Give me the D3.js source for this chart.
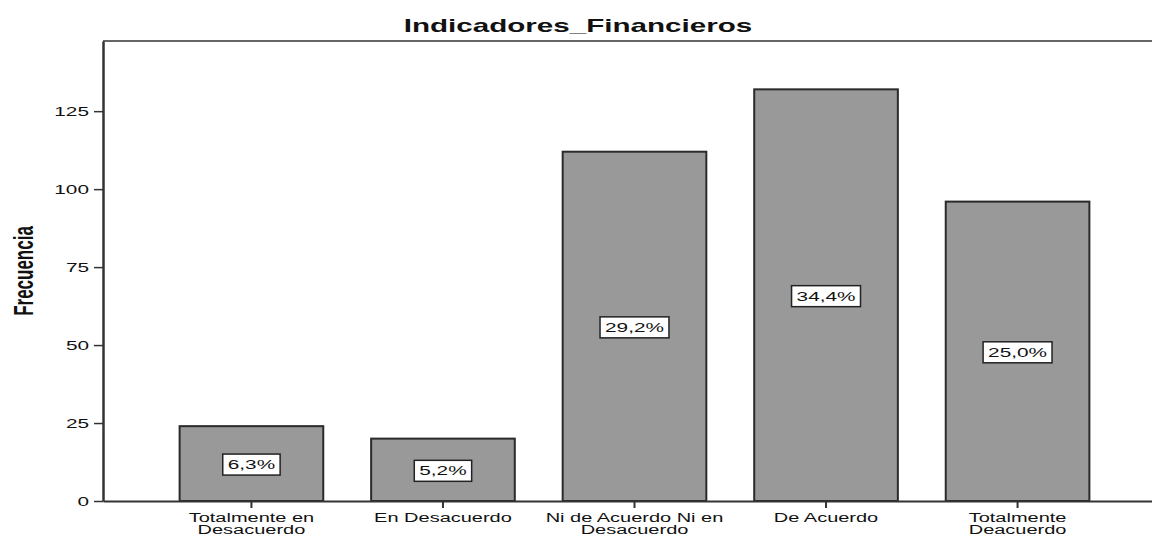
<!DOCTYPE html>
<html lang="es">
<head>
<meta charset="UTF-8">
<title>Indicadores_Financieros</title>
<script src="https://cdn.jsdelivr.net/npm/d3@7"></script>
<style>
    body{ margin:0; background:#fff; }
    svg{ display:block; font-family:"Liberation Sans", Arial, sans-serif; }
</style>
</head>
<body>
<script>
    // datos
    var categorias = [["Totalmente en","Desacuerdo"],["En Desacuerdo"],["Ni de Acuerdo Ni en","Desacuerdo"],["De Acuerdo"],["Totalmente","Deacuerdo"]];
    var frecuencias = [24, 20, 112, 132, 96];
    var porcentajes = [6.3, 5.2, 29.2, 34.4, 25.0];
    var ticksY = [0, 25, 50, 75, 100, 125];

    var width = 1152, height = 536;
    var sx = 1.6; // la imagen original esta estirada en horizontal
    var plotLeft = 103, plotRight = 1166, plotTop = 41, plotBottom = 501;

    var svg = d3.select('body').append('svg')
        .attr('width', width)
        .attr('height', height);

    var x = d3.scaleBand()
        .domain(d3.range(categorias.length))
        .range([plotLeft, plotRight])
        .paddingInner(0.25)
        .paddingOuter(0.4);

    var y = d3.scaleLinear()
        .domain([0, 147.5])
        .range([plotBottom, plotTop]);

    var pct = function(v){ return d3.format('.1f')(v).replace('.', ',') + '%'; };

    // marco superior
    svg.append('line')
        .attr('x1', plotLeft).attr('x2', plotRight)
        .attr('y1', plotTop).attr('y2', plotTop)
        .attr('stroke', '#666').attr('stroke-width', 2);

    // barras
    svg.selectAll('.bar')
        .data(frecuencias)
        .enter().append('rect')
        .attr('class', 'bar')
        .attr('x', function(d, i){ return x(i); })
        .attr('y', function(d){ return y(d); })
        .attr('width', x.bandwidth())
        .attr('height', function(d){ return y(0) - y(d); })
        .attr('fill', '#999999')
        .attr('stroke', '#2a2a2a')
        .attr('stroke-width', 2);

    // eje Y
    var gy = svg.append('g')
        .attr('transform', 'translate(' + plotLeft + ',0)')
        .call(d3.axisLeft(y).tickValues(ticksY).tickSize(9).tickSizeOuter(0).tickPadding(5));
    gy.select('.domain').attr('stroke', '#333').attr('stroke-width', 2.5);
    gy.selectAll('.tick line').attr('stroke', '#333').attr('stroke-width', 1.5);
    gy.selectAll('.tick text')
        .attr('font-size', 13)
        .attr('fill', '#111')
        .attr('font-family', '"Liberation Sans", Arial, sans-serif')
        .attr('transform', function(){ return 'translate(' + this.getAttribute('x') + ',0) scale(' + sx + ',1)'; })
        .attr('x', 0);

    // eje X
    var gx = svg.append('g')
        .attr('transform', 'translate(0,' + plotBottom + ')')
        .call(d3.axisBottom(x).tickSize(7).tickSizeOuter(0).tickFormat(''));
    gx.select('.domain').attr('stroke', '#333').attr('stroke-width', 2);
    gx.selectAll('.tick line').attr('stroke', '#333').attr('stroke-width', 2);

    svg.selectAll('.cat')
        .data(categorias)
        .enter().append('text')
        .attr('class', 'cat')
        .attr('transform', function(d, i){ return 'translate(' + (x(i) + x.bandwidth() / 2) + ',522) scale(' + sx + ',1)'; })
        .attr('text-anchor', 'middle')
        .attr('font-size', 12.5)
        .attr('fill', '#111')
        .selectAll('tspan')
        .data(function(d){ return d; })
        .enter().append('tspan')
        .attr('x', 0)
        .attr('dy', function(d, j){ return j ? 12 : 0; })
        .text(function(d){ return d; });

    // etiquetas de porcentaje
    var lab = svg.selectAll('.lab')
        .data(porcentajes)
        .enter().append('g')
        .attr('class', 'lab')
        .attr('transform', function(d, i){
            var cy = (y(0) + y(frecuencias[i])) / 2 + 1;
            return 'translate(' + (x(i) + x.bandwidth() / 2) + ',' + cy + ')';
        });
    lab.append('rect');
    lab.append('text')
        .attr('transform', 'scale(' + sx + ',1)')
        .attr('text-anchor', 'middle')
        .attr('dy', '0.36em')
        .attr('font-size', 13)
        .attr('fill', '#111')
        .text(pct);
    lab.each(function(){
        var g = d3.select(this);
        var w = g.select('text').node().getComputedTextLength() * sx + 10;
        g.select('rect')
            .attr('x', -w / 2).attr('y', -10.5)
            .attr('width', w).attr('height', 21)
            .attr('fill', '#fff')
            .attr('stroke', '#222')
            .attr('stroke-width', 1.5);
    });

    // titulo
    svg.append('text')
        .attr('transform', 'translate(578,32) scale(' + sx + ',1)')
        .attr('text-anchor', 'middle')
        .attr('font-size', 18.5)
        .attr('font-weight', 'bold')
        .attr('fill', '#111')
        .text('Indicadores_Financieros');

    // titulo del eje Y
    svg.append('text')
        .attr('transform', 'translate(33,271) scale(' + sx + ',1) rotate(-90)')
        .attr('text-anchor', 'middle')
        .attr('font-size', 17)
        .attr('font-weight', 'bold')
        .attr('fill', '#111')
        .text('Frecuencia');
</script>
</body>
</html>
